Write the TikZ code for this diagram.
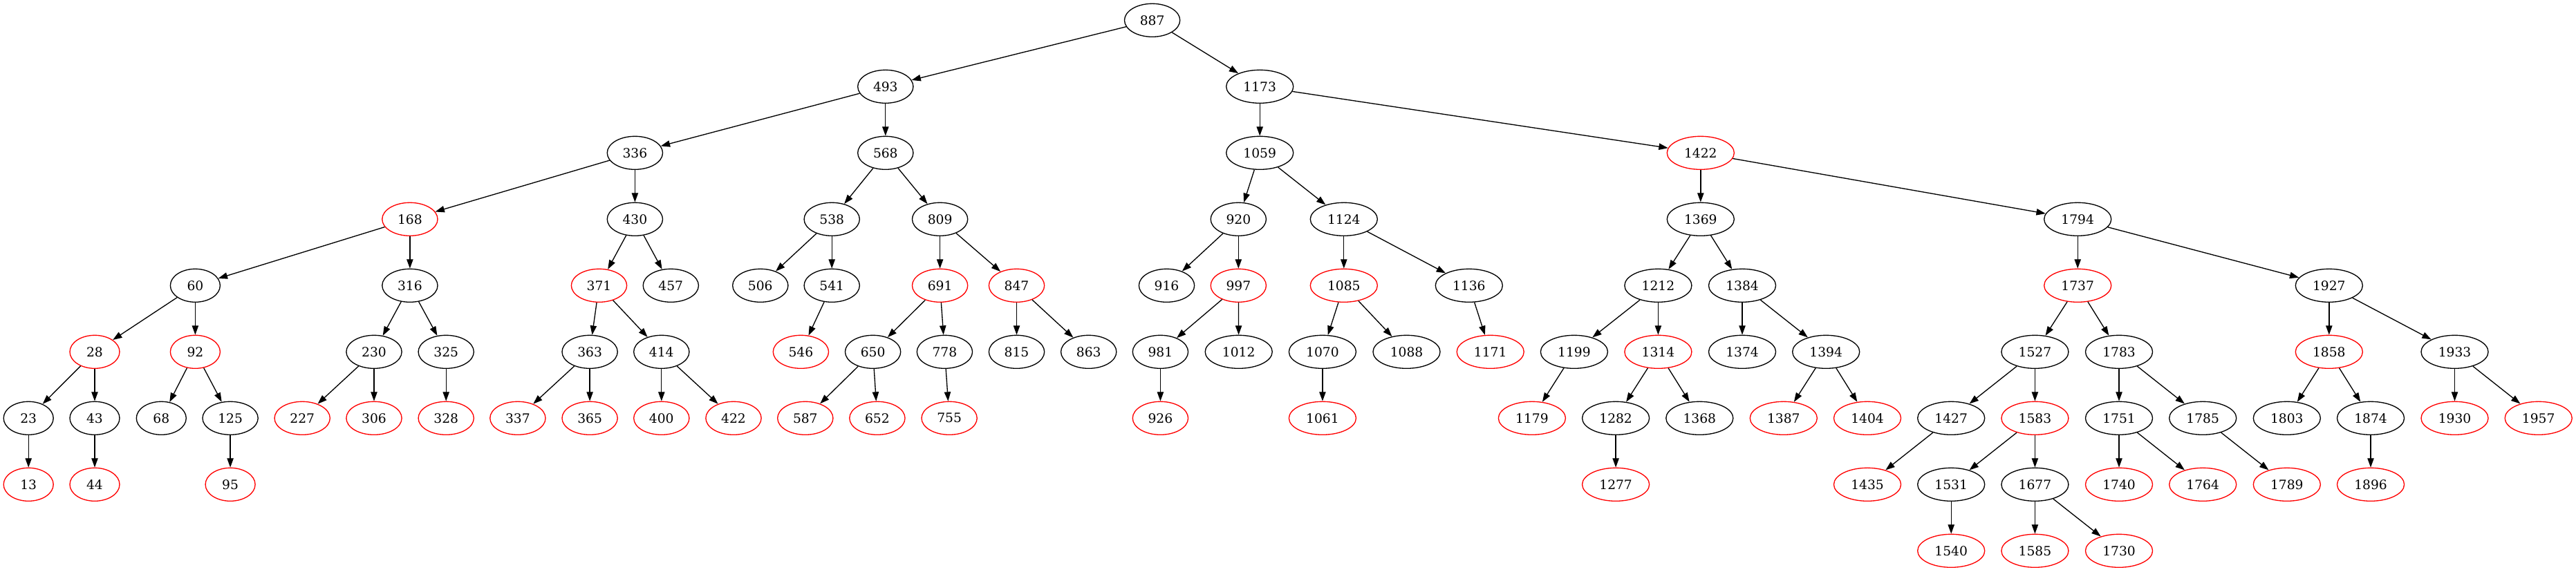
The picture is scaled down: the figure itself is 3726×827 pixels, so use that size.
\documentclass[tikz,border=0pt]{standalone}
\usepackage{fontspec}
\setmainfont{DejaVu Serif}
\usetikzlibrary{arrows.meta,shapes.geometric}
\begin{document}
\begin{tikzpicture}[x=0.75bp,y=-0.75bp,
  tn/.style={ellipse, draw=black, line width=1bp, inner xsep=7.92bp, inner ysep=3.96bp,
    minimum width=54bp, minimum height=36bp, font=\fontsize{14bp}{16bp}\selectfont},
  rn/.style={tn, draw=red},
  conn/.style={line width=1bp, -{Triangle[length=10bp,width=7bp]}}]
\useasboundingbox (0,0) rectangle (3726,827);
% level 0
\node[tn] (n887) at (1666.6,29.3) {887};
% level 1
\node[tn] (n493) at (1280.8,125.3) {493};
\node[tn] (n1173) at (1822.2,125.3) {1173};
% level 2
\node[tn] (n336) at (918.4,221.3) {336};
\node[tn] (n568) at (1280.8,221.3) {568};
\node[tn] (n1059) at (1822.2,221.3) {1059};
\node[rn] (n1422) at (2459.8,221.3) {1422};
% level 3
\node[rn] (n168) at (592.9,317.3) {168};
\node[tn] (n430) at (918.4,317.3) {430};
\node[tn] (n538) at (1203.2,317.3) {538};
\node[tn] (n809) at (1359.6,317.3) {809};
\node[tn] (n920) at (1791.3,317.3) {920};
\node[tn] (n1124) at (1943.8,317.3) {1124};
\node[tn] (n1369) at (2459.8,317.3) {1369};
\node[tn] (n1794) at (3005.2,317.3) {1794};
% level 4
\node[tn] (n60) at (282.4,413.3) {60};
\node[tn] (n316) at (592.9,413.3) {316};
\node[rn] (n371) at (866.5,413.3) {371};
\node[tn] (n457) at (970.3,413.3) {457};
\node[tn] (n506) at (1099.8,413.3) {506};
\node[tn] (n541) at (1203.2,413.3) {541};
\node[rn] (n691) at (1359.6,413.3) {691};
\node[rn] (n847) at (1470.5,413.3) {847};
\node[tn] (n916) at (1687.5,413.3) {916};
\node[rn] (n997) at (1791.3,413.3) {997};
\node[rn] (n1085) at (1943.8,413.3) {1085};
\node[tn] (n1136) at (2124.8,413.3) {1136};
\node[tn] (n1212) at (2398.4,413.3) {1212};
\node[tn] (n1384) at (2520.0,413.3) {1384};
\node[rn] (n1737) at (3005.2,413.3) {1737};
\node[tn] (n1927) at (3368.8,413.3) {1927};
% level 5
\node[rn] (n28) at (137.0,509.3) {28};
\node[rn] (n92) at (282.4,509.3) {92};
\node[tn] (n230) at (541.0,509.3) {230};
\node[tn] (n325) at (645.2,509.3) {325};
\node[tn] (n363) at (853.1,509.3) {363};
\node[tn] (n414) at (956.8,509.3) {414};
\node[rn] (n546) at (1158.4,509.3) {546};
\node[tn] (n650) at (1262.6,509.3) {650};
\node[tn] (n778) at (1366.4,509.3) {778};
\node[tn] (n815) at (1470.5,509.3) {815};
\node[tn] (n863) at (1574.7,509.3) {863};
\node[tn] (n981) at (1678.4,509.3) {981};
\node[tn] (n1012) at (1791.7,509.3) {1012};
\node[tn] (n1070) at (1912.9,509.3) {1070};
\node[tn] (n1088) at (2034.5,509.3) {1088};
\node[rn] (n1171) at (2155.7,509.3) {1171};
\node[tn] (n1199) at (2276.9,509.3) {1199};
\node[rn] (n1314) at (2398.4,509.3) {1314};
\node[tn] (n1374) at (2520.0,509.3) {1374};
\node[tn] (n1394) at (2641.2,509.3) {1394};
\node[tn] (n1527) at (2943.4,509.3) {1527};
\node[tn] (n1783) at (3065.0,509.3) {1783};
\node[rn] (n1858) at (3368.8,509.3) {1858};
\node[tn] (n1933) at (3550.5,509.3) {1933};
% level 6
\node[tn] (n23) at (41.2,605.3) {23};
\node[tn] (n43) at (137.0,605.3) {43};
\node[tn] (n68) at (233.3,605.3) {68};
\node[tn] (n125) at (333.1,605.3) {125};
\node[rn] (n227) at (437.2,605.3) {227};
\node[rn] (n306) at (541.0,605.3) {306};
\node[rn] (n328) at (645.2,605.3) {328};
\node[rn] (n337) at (748.9,605.3) {337};
\node[rn] (n365) at (853.1,605.3) {365};
\node[rn] (n400) at (956.8,605.3) {400};
\node[rn] (n422) at (1061.0,605.3) {422};
\node[rn] (n587) at (1164.8,605.3) {587};
\node[rn] (n652) at (1268.9,605.3) {652};
\node[rn] (n755) at (1373.1,605.3) {755};
\node[rn] (n926) at (1678.4,605.3) {926};
\node[rn] (n1061) at (1912.9,605.3) {1061};
\node[rn] (n1179) at (2215.9,605.3) {1179};
\node[tn] (n1282) at (2337.1,605.3) {1282};
\node[tn] (n1368) at (2458.3,605.3) {1368};
\node[rn] (n1387) at (2579.8,605.3) {1387};
\node[rn] (n1404) at (2701.0,605.3) {1404};
\node[tn] (n1427) at (2822.2,605.3) {1427};
\node[rn] (n1583) at (2943.4,605.3) {1583};
\node[tn] (n1751) at (3065.0,605.3) {1751};
\node[tn] (n1785) at (3186.2,605.3) {1785};
\node[tn] (n1803) at (3307.8,605.3) {1803};
\node[tn] (n1874) at (3429.0,605.3) {1874};
\node[rn] (n1930) at (3550.5,605.3) {1930};
\node[rn] (n1957) at (3671.7,605.3) {1957};
% level 7
\node[rn] (n13) at (41.2,701.3) {13};
\node[rn] (n44) at (137.0,701.3) {44};
\node[rn] (n95) at (333.1,701.3) {95};
\node[rn] (n1277) at (2337.1,701.3) {1277};
\node[rn] (n1435) at (2701.0,701.3) {1435};
\node[tn] (n1531) at (2822.2,701.3) {1531};
\node[tn] (n1677) at (2943.4,701.3) {1677};
\node[rn] (n1740) at (3065.0,701.3) {1740};
\node[rn] (n1764) at (3186.2,701.3) {1764};
\node[rn] (n1789) at (3307.8,701.3) {1789};
\node[rn] (n1896) at (3429.0,701.3) {1896};
% level 8
\node[rn] (n1540) at (2822.2,797.3) {1540};
\node[rn] (n1585) at (2943.4,797.3) {1585};
\node[rn] (n1730) at (3065.0,797.3) {1730};
% edges
\foreach \a/\b in {887/493,887/1173,493/336,493/568,336/168,336/430,168/60,168/316,
  60/28,60/92,28/23,28/43,23/13,43/44,92/68,92/125,125/95,316/230,316/325,
  230/227,230/306,325/328,430/371,430/457,371/363,371/414,363/337,363/365,
  414/400,414/422,568/538,568/809,538/506,538/541,541/546,809/691,809/847,
  691/650,691/778,650/587,650/652,778/755,847/815,847/863,
  1173/1059,1173/1422,1059/920,1059/1124,920/916,920/997,997/981,997/1012,
  981/926,1124/1085,1124/1136,1085/1070,1085/1088,1070/1061,1136/1171,
  1422/1369,1422/1794,1369/1212,1369/1384,1212/1199,1212/1314,1199/1179,
  1314/1282,1314/1368,1282/1277,1384/1374,1384/1394,1394/1387,1394/1404,
  1794/1737,1794/1927,1737/1527,1737/1783,1527/1427,1527/1583,1427/1435,
  1583/1531,1583/1677,1531/1540,1677/1585,1677/1730,1783/1751,1783/1785,
  1751/1740,1751/1764,1785/1789,1927/1858,1927/1933,1858/1803,1858/1874,
  1874/1896,1933/1930,1933/1957}
  \draw[conn] (n\a) -- (n\b);
\end{tikzpicture}
\end{document}
